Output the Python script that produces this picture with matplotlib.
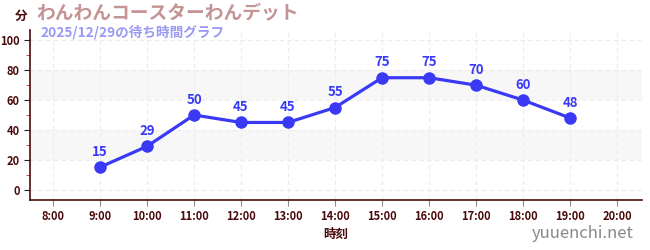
import matplotlib.pyplot as plt
from matplotlib.ticker import MultipleLocator

plt.rcParams['font.family'] = ['Noto Sans CJK JP', 'DejaVu Sans']

# data
hours = [9, 10, 11, 12, 13, 14, 15, 16, 17, 18, 19]
waits = [15, 29, 50, 45, 45, 55, 75, 75, 70, 60, 48]
tick_hours = list(range(8, 21))
tick_labels = [f"{h}:00" for h in tick_hours]

dark = '#4a0a0a'
blue = '#3a3af5'

fig = plt.figure(figsize=(6.5, 2.5), dpi=100)
ax = fig.add_axes([30 / 650, 50 / 250, 612 / 650, 170 / 250])

ax.set_xlim(7.51, 20.53)
ax.set_ylim(-7, 107)

# bands
for lo, hi in [(20, 40), (60, 80)]:
    ax.axhspan(lo, hi, color='#f7f7f7', zorder=0, lw=0)

ax.grid(True, color='#ececec', ls=(0, (4, 3)), lw=0.8, zorder=0)

ax.plot(hours, waits, color=blue, lw=2.3, marker='o', ms=8, zorder=3)
for h, w in zip(hours, waits):
    ax.annotate(str(w), (h, w), xytext=(0, 6), textcoords='offset points',
                ha='center', va='bottom', color=blue, fontsize=9.5, fontweight='bold')

ax.set_xticks(tick_hours)
ax.set_xticklabels(tick_labels)
ax.set_yticks(range(0, 101, 20))
ax.yaxis.set_minor_locator(MultipleLocator(10))
ax.tick_params(axis='both', which='major', labelsize=8, labelcolor=dark, color='#222222', length=4)
ax.tick_params(axis='x', color='#888888')
ax.tick_params(axis='y', which='minor', color='#dd2222', length=3)
for lab in ax.get_xticklabels() + ax.get_yticklabels():
    lab.set_fontweight('bold')

for s in ['top', 'right']:
    ax.spines[s].set_visible(False)
ax.spines['left'].set_color(dark)
ax.spines['bottom'].set_color(dark)
ax.spines['left'].set_linewidth(1.2)
ax.spines['bottom'].set_linewidth(1.2)

ax.set_xlabel('時刻', fontsize=9, fontweight='bold', color=dark, labelpad=3)

fig.text(15 / 650, 1 - 16 / 250, '分', fontsize=9, fontweight='bold', color=dark, ha='left', va='center')
fig.text(36 / 650, 1 - 14 / 250, 'わんわんコースターわんデット', fontsize=13.5, fontweight='bold',
         color='#c49494', ha='left', va='center')
fig.text(40 / 650, 1 - 32 / 250, '2025/12/29の待ち時間グラフ', fontsize=9.8, fontweight='bold',
         color='#9a9af5', ha='left', va='center')
fig.text(634 / 650, 1 - 233 / 250, 'yuuenchi.net', fontsize=12, color='#888888',
         ha='right', va='center')

fig.savefig('out.png', dpi=100)
